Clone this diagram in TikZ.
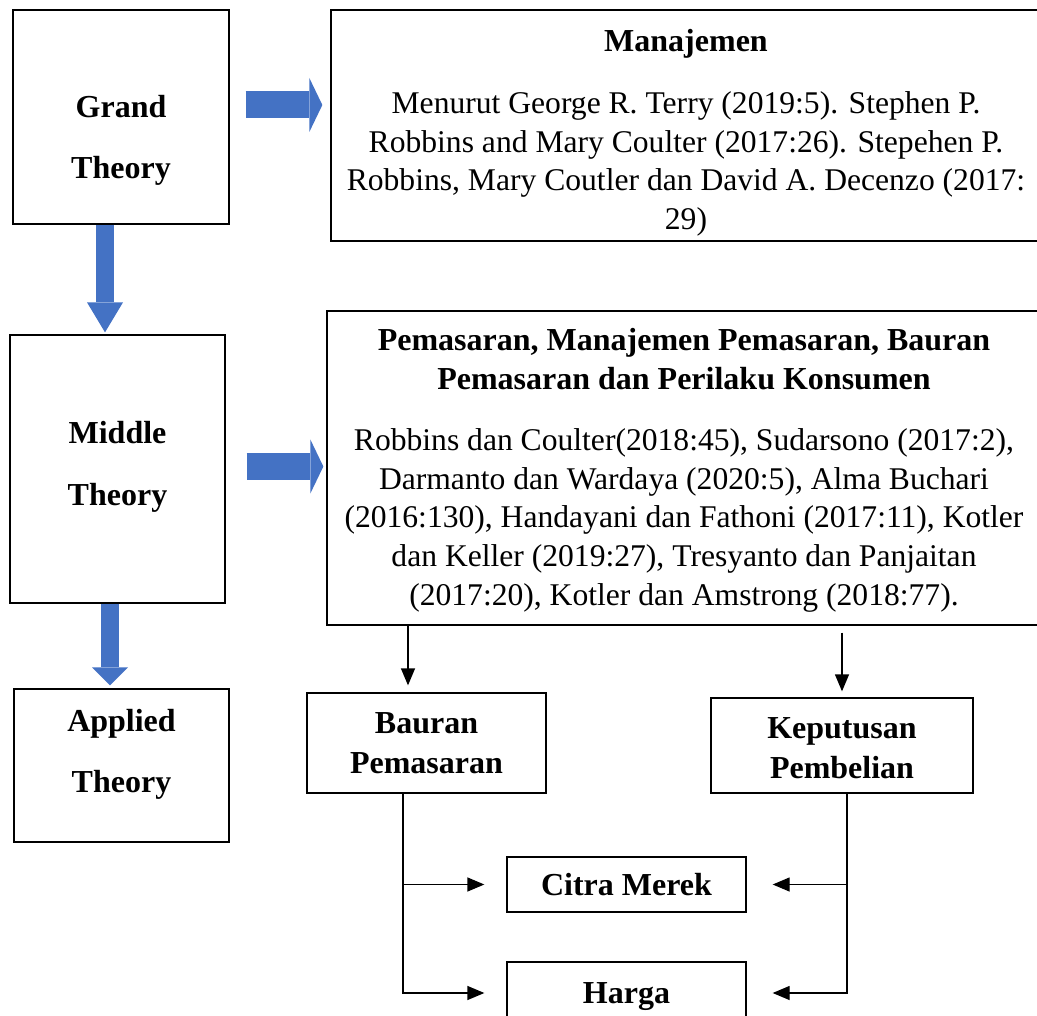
\documentclass[tikz,border=0pt]{standalone}
\usepackage{fontspec}
\setmainfont{Liberation Serif}
\usetikzlibrary{arrows.meta}
\definecolor{arrowblue}{RGB}{68,114,196}

\begin{document}
\begin{tikzpicture}[x=1pt,y=-1pt,
        box node/.style={draw,rectangle,line width=1.3pt,align=center,inner sep=0pt,font=\fontsize{31.6}{38.8}\selectfont},
        bold node/.style={box node,font=\fontsize{32}{38.8}\selectfont\bfseries},
        fat arrow/.style={draw=arrowblue,line width=27pt,-{Triangle[length=13pt,width=54pt,line width=0pt]}},
        fat down/.style={draw=arrowblue,line width=18pt,-{Triangle[length=#1,width=36pt,line width=0pt]}},
        link/.style={line width=1.3pt,-{Triangle[length=17pt,width=14pt]}}]
        \useasboundingbox (0,0) rectangle (1037,1016);
        % left column
        \node[bold node,minimum width=216pt,minimum height=214pt] (grand) at (121,117) {\rule{0pt}{69pt}Grand\\[22.7pt]Theory};
        \node[bold node,minimum width=215pt,minimum height=268pt] (middle) at (117.5,469) {Middle\\[22.7pt]Theory\rule[-11pt]{0pt}{11pt}};
        \node[bold node,minimum width=215pt,minimum height=153pt] (applied) at (121.5,765.5) {Applied\\[22.7pt]Theory\rule[-29pt]{0pt}{29pt}};
        % right column
        \node[box node,minimum width=710pt,minimum height=231pt] (manajemen) at (686,125.5) {\rule{0pt}{37pt}{\fontsize{32}{38.8}\selectfont\bfseries Manajemen}\\[23pt]Menurut George R. Terry (2019:5). Stephen P.\\Robbins and Mary Coulter (2017:26). Stepehen P.\\Robbins, Mary Coutler dan David A. Decenzo (2017:\\29)};
        \node[box node,minimum width=714pt,minimum height=314pt] (pemasaran) at (684,468) {\rule{0pt}{27pt}{\fontsize{32}{38.8}\selectfont\bfseries Pemasaran, Manajemen Pemasaran, Bauran}\\{\fontsize{32}{38.8}\selectfont\bfseries Pemasaran dan Perilaku Konsumen}\\[22pt]Robbins dan Coulter(2018:45), Sudarsono (2017:2),\\Darmanto dan Wardaya (2020:5), Alma Buchari\\(2016:130), Handayani dan Fathoni (2017:11), Kotler\\dan Keller (2019:27), Tresyanto dan Panjaitan\\(2017:20), Kotler dan Amstrong (2018:77).};
        \node[bold node,minimum width=239pt,minimum height=100pt] (bauran) at (426.5,743) {Bauran\\[1pt]Pemasaran};
        \node[bold node,minimum width=262pt,minimum height=95pt] (keputusan) at (842,745.5) {\rule{0pt}{27pt}Keputusan\\[1pt]Pembelian};
        \node[bold node,minimum width=239pt,minimum height=55pt] (citra) at (626.5,884.5) {Citra Merek};
        \node[bold node,minimum width=239pt,minimum height=62pt] (harga) at (626.5,993) {\rule{0pt}{29pt}Harga};
        % blue arrows
        \coordinate (g0) at ([xshift=16pt,yshift=12pt]grand.east);
        \coordinate (m0) at ([xshift=21pt,yshift=2.5pt]middle.east);
        \coordinate (g1) at ([xshift=-16pt]grand.south);
        \coordinate (m1) at ([xshift=-7.5pt]middle.south);
        \draw[fat arrow] (g0) -- ([xshift=-8pt]manajemen.west |- g0);
        \draw[fat arrow] (m0) -- ([xshift=-3pt]pemasaran.west |- m0);
        \draw[fat down=30pt,shorten >=2pt] (g1) -- (g1 |- middle.north);
        \draw[fat down=18pt,shorten >=3pt] (m1) -- (m1 |- applied.north);
        % thin arrows
        \coordinate (b0) at ([xshift=-18.5pt]bauran.north);
        \coordinate (bl) at ([xshift=-23.5pt]bauran.south);
        \coordinate (br) at ([xshift=5pt]keputusan.south);
        \draw[link,shorten >=7pt] (b0 |- pemasaran.south) -- (b0);
        \draw[link,shorten <=7pt,shorten >=6pt] (keputusan.north |- pemasaran.south) -- (keputusan.north);
        \draw[link] (bl) |- ([xshift=-22pt]harga.west);
        \draw[link] (bl |- citra.west) -- ([xshift=-22pt]citra.west);
        \draw[link] (br) |- ([xshift=26pt]harga.east);
        \draw[link] (br |- citra.east) -- ([xshift=26pt]citra.east);
\end{tikzpicture}
\end{document}
